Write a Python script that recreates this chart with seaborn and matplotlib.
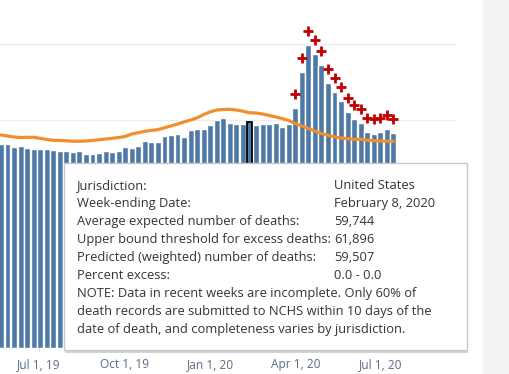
import numpy as np
import pandas as pd
import matplotlib
matplotlib.use("Agg")
import matplotlib.pyplot as plt
import matplotlib.dates as mdates
from matplotlib.patches import Rectangle
import seaborn as sns

# ---------------- data ----------------
week_ending = pd.date_range("2019-05-18", "2020-07-11", freq="7D")  # 61 weeks

observed = [
    53763, 53763, 52974, 53237, 52711, 52447, 52368, 52368, 52105, 51921,
    51921, 51658, 51921, 51132, 51132, 51395, 51921, 51658, 51921, 52974,
    52711, 53237, 54553, 54289, 54289, 55868, 56132, 56395, 55605, 57447,
    57711, 57711, 58763, 60079, 60605, 59289, 59026, 59026, 59507, 58763,
    59026, 59026, 59289, 58237, 59026, 63237, 72711, 79816, 77447, 74553,
    69816, 67447, 65079, 62184, 60342, 59289, 56921, 56395, 56921, 57711,
    56658,
]

threshold = [
    56053, 55789, 55526, 55395, 55447, 55447, 55184, 54868, 54658, 54605,
    54526, 54421, 54395, 54474, 54605, 54816, 55000, 55184, 55395, 55658,
    56316, 56658, 57026, 57237, 57474, 57947, 58447, 58947, 59474, 60000,
    60579, 61447, 62158, 62632, 62763, 62816, 62632, 62316, 61896, 61842,
    61579, 61184, 60789, 60395, 59868, 59079, 58421, 57763, 57105, 56447,
    55974, 55579, 55263, 55079, 54921, 54921, 54737, 54553, 54474, 54395,
    54395,
]

flag_dates = [
    "2020-03-28", "2020-04-04", "2020-04-11", "2020-04-18", "2020-04-25",
    "2020-05-02", "2020-05-09", "2020-05-16", "2020-05-23", "2020-05-30",
    "2020-06-06", "2020-06-13", "2020-06-20", "2020-06-27", "2020-07-04",
    "2020-07-11",
]
flag_values = [
    66921, 76395, 83500, 81132, 78237, 73500, 71132, 68763, 65868, 64026,
    62974, 60605, 60263, 60605, 61395, 60342,
]

tick_dates = ["2019-07-01", "2019-10-01", "2020-01-01", "2020-04-01", "2020-07-01"]
tick_labels = ["Jul 1, 19", "Oct 1, 19", "Jan 1, 20", "Apr 1, 20", "Jul 1, 20"]

highlight_date = "2020-02-08"

tip_labels = [
    "Jurisdiction:",
    "Week-ending Date:",
    "Average expected number of deaths:",
    "Upper bound threshold for excess deaths:",
    "Predicted (weighted) number of deaths:",
    "Percent excess:",
]
tip_values = ["United States", "February 8, 2020", "59,744", "61,896", "59,507", "0.0 - 0.0"]
tip_note = [
    "NOTE: Data in recent weeks are incomplete. Only 60% of",
    "death records are submitted to NCHS within 10 days of the",
    "date of death, and completeness varies by jurisdiction.",
]

# ---------------- style ----------------
BAR = "#4e79a7"
ORANGE = "#f28e2b"
RED = "#c00000"
FONT = ["Open Sans", "DejaVu Sans"]

sns.set_theme(style="white")
plt.rcParams["font.family"] = FONT

W, H = 509, 374
fig = plt.figure(figsize=(W / 100, H / 100), dpi=100)
fig.patch.set_facecolor("white")

def fx(px):
    return px / W

def fy(py):
    return 1 - py / H

ax = fig.add_axes([0, fy(348), fx(456), 348 / H])
ax.set_facecolor("white")

# x positions: each bar spans the week following its week-ending date
xnum = mdates.date2num(week_ending.to_pydatetime()) + 3.5
df = pd.DataFrame({"x": xnum, "observed": observed, "threshold": threshold})

sns.barplot(data=df, x="x", y="observed", native_scale=True, orient="x",
            color=BAR, saturation=1, width=0.9, ax=ax, zorder=2)

hl_idx = list(week_ending).index(pd.Timestamp(highlight_date))
bars = [p for p in ax.patches if isinstance(p, Rectangle)]
bars[hl_idx].set_edgecolor("black")
bars[hl_idx].set_linewidth(1.3)
bars[hl_idx].set_zorder(3)

sns.lineplot(data=df, x="x", y="threshold", color=ORANGE, linewidth=2.3,
             ax=ax, zorder=4)

flag_x = mdates.date2num(pd.to_datetime(flag_dates).to_pydatetime()) + 3.5
sns.scatterplot(x=flag_x, y=flag_values, marker="+", s=50, color=RED,
                linewidth=2.0, ax=ax, zorder=5)

jan1 = mdates.date2num(pd.Timestamp("2020-01-01").to_pydatetime())
ax.set_xlim(jan1 - 225.5, jan1 + 262.5)
ax.set_ylim(0, 91579)

ax.set_yticks([20000, 40000, 60000, 80000])
ax.set_yticklabels([])
ax.tick_params(axis="y", length=0)
ax.grid(axis="y", color="#eeeeee", linewidth=1.0)
ax.grid(axis="x", visible=False)
ax.set_axisbelow(True)

ax.set_xticks(mdates.date2num(pd.to_datetime(tick_dates).to_pydatetime()))
ax.set_xticklabels(tick_labels)
ax.tick_params(axis="x", length=3, width=0.8, color="#dddddd",
               labelsize=8.6, labelcolor="#5a6b85", pad=4.5, bottom=True)
ax.set_xlabel("")
ax.set_ylabel("")
for s in ax.spines.values():
    s.set_visible(False)

# right grey panel
fig.add_artist(Rectangle((fx(483), 0), fx(W - 483), 1, transform=fig.transFigure,
                         facecolor="#f3f3f3", edgecolor="none", zorder=1))

# tooltip
bx0, bx1, by0, by1 = 64.3, 467.3, 163.3, 350.3
fig.add_artist(Rectangle((fx(bx0 + 1), fy(by1 + 2.5)), fx(bx1 - bx0), (by1 - by0) / H,
                         transform=fig.transFigure, facecolor="#d4d4d4",
                         edgecolor="none", zorder=10))
fig.add_artist(Rectangle((fx(bx0), fy(by1)), fx(bx1 - bx0), (by1 - by0) / H,
                         transform=fig.transFigure, facecolor="white",
                         edgecolor="#c8c8c8", linewidth=1.0, zorder=11))

TIP_SIZE = 9.25
for i, (lab, val) in enumerate(zip(tip_labels, tip_values)):
    yy = fy(185.7 + 18 * i)
    fig.text(fx(77.3), yy, lab, ha="left", va="center", fontsize=TIP_SIZE,
             color="#333333", zorder=12)
    fig.text(fx(334.3), yy, val, ha="left", va="center", fontsize=TIP_SIZE,
             color="#333333", zorder=12)
for j, line in enumerate(tip_note):
    yy = fy(185.7 + 18 * (6 + j))
    fig.text(fx(77.3), yy, line, ha="left", va="center", fontsize=TIP_SIZE,
             color="#333333", zorder=12)

fig.savefig("out.png", dpi=100, facecolor="white")
